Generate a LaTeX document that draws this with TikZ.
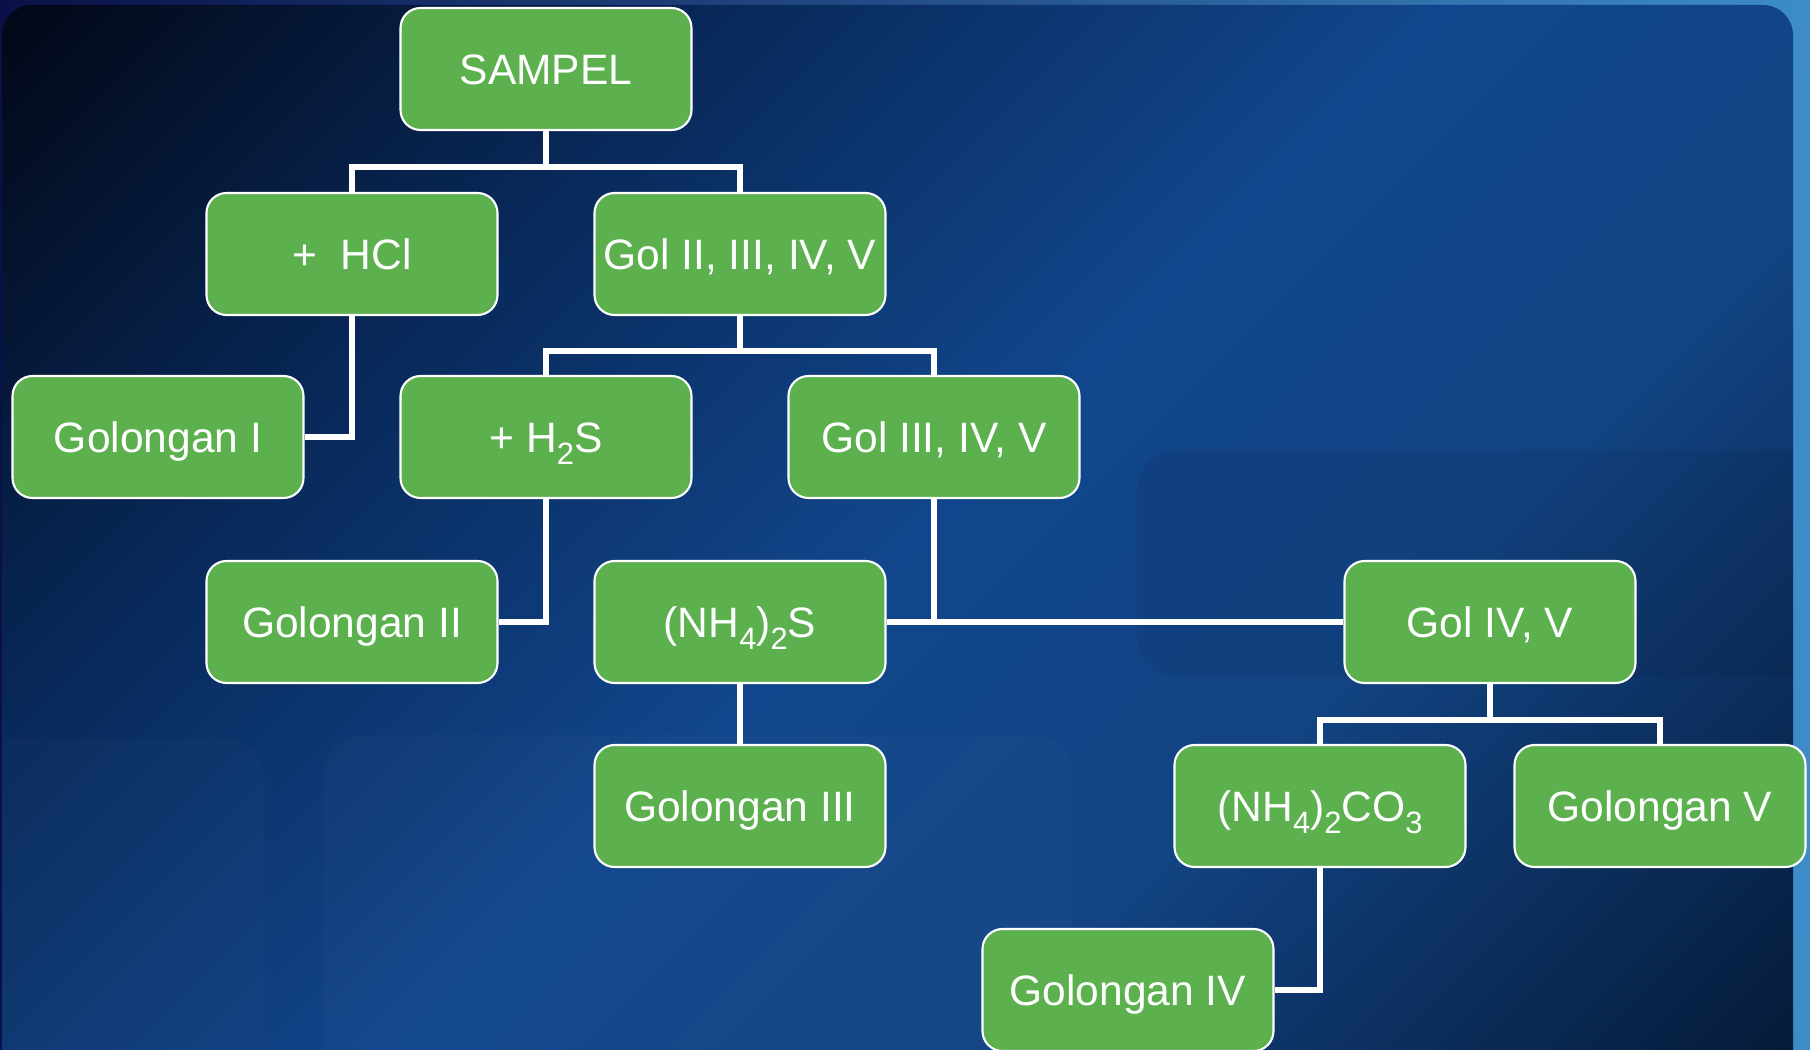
\documentclass[tikz,border=0pt]{standalone}
\usepackage{fontspec}
\setmainfont{Liberation Sans}
\usetikzlibrary{positioning,calc}

\definecolor{boxgreen}{RGB}{92,176,78}
\definecolor{edgeblue}{RGB}{61,140,200}
\definecolor{cornerblue}{RGB}{11,16,72}
\definecolor{bgA}{RGB}{3,8,24}
\definecolor{bgB}{RGB}{8,40,88}
\definecolor{bgC}{RGB}{17,70,140}
\definecolor{bgD}{RGB}{18,68,132}
\definecolor{bgE}{RGB}{5,26,56}
\pgfdeclarehorizontalshading{slidebg}{100bp}{color(0bp)=(bgA); color(15bp)=(bgA); color(32bp)=(bgB); color(50bp)=(bgC); color(64bp)=(bgD); color(85bp)=(bgE); color(100bp)=(bgE)}
\newcommand{\chemsub}[1]{\raisebox{-.28em}{\fontsize{8.8}{9}\selectfont#1}}

\begin{document}
\begin{tikzpicture}[x=0.1mm,y=-0.1mm]
  \tikzstyle{box}=[draw=white, line width=0.6pt, fill=boxgreen, rounded corners=2mm, minimum width=29.1mm, minimum height=12.2mm, inner sep=0pt, text=white, font=\fontsize{12.1}{14.5}\selectfont, text height=0.9em, text depth=0pt]
  \tikzstyle{wire}=[draw=white, line width=1.7pt]
  \tikzstyle{panel}=[rounded corners=3mm]

  % slide background
  \useasboundingbox (0,0) rectangle (1810,1050);
  \fill[left color=cornerblue, right color=edgeblue] (0,0) rectangle (1810,1050);
  \path[panel, shading=slidebg, shading angle=-45] (2,5) rectangle (1793,1080);
  \begin{scope}
    \clip[panel] (2,5) rectangle (1793,1080);
    \fill[black, opacity=.06, rounded corners=4mm] (1137,450) rectangle (1830,677);
    \fill[white, opacity=.02, rounded corners=4mm] (323,735) rectangle (1073,1090);
    \fill[white, opacity=.015, rounded corners=4mm] (-40,738) rectangle (265,1090);
  \end{scope}

  % boxes
  \node[box] (sampel) at (546,69) {SAMPEL};
  \node[box] (hcl) at (352,254) {+~~HCl};
  \node[box] (gol25) at (740,254) {Gol II, III, IV, V};
  \node[box] (gol1) at (158,437) {Golongan I};
  \node[box] (hths) at (546,437) {+ H\chemsub{2}S};
  \node[box] (gol35) at (934,437) {Gol III, IV, V};
  \node[box] (gol2) at (352,622) {Golongan II};
  \node[box] (nhs) at (740,622) {(NH\chemsub{4})\chemsub{2}S};
  \node[box] (gol45) at (1490,622) {Gol IV, V};
  \node[box] (gol3) at (740,806) {Golongan III};
  \node[box] (nhco) at (1320,806) {(NH\chemsub{4})\chemsub{2}CO\chemsub{3}};
  \node[box] (gol5) at (1660,806) {Golongan V};
  \node[box] (gol4) at (1128,990) {Golongan IV};

  % connectors
  \coordinate (f1) at (546,167);
  \draw[wire] (sampel.south) -- (f1);
  \draw[wire] (hcl.north) |- (f1) -| (gol25.north);
  \draw[wire] (hcl.south) |- (gol1.east);

  \coordinate (f2) at (740,351);
  \draw[wire] (gol25.south) -- (f2);
  \draw[wire] (hths.north) |- (f2) -| (gol35.north);
  \draw[wire] (hths.south) |- (gol2.east);

  \draw[wire] (gol35.south) -- (gol35.south |- nhs.east);
  \draw[wire] (nhs.east) -- (gol45.west);
  \draw[wire] (nhs.south) -- (gol3.north);

  \coordinate (f3) at (1490,720);
  \draw[wire] (gol45.south) -- (f3);
  \draw[wire] (nhco.north) |- (f3) -| (gol5.north);
  \draw[wire] (nhco.south) |- (gol4.east);
\end{tikzpicture}
\end{document}
